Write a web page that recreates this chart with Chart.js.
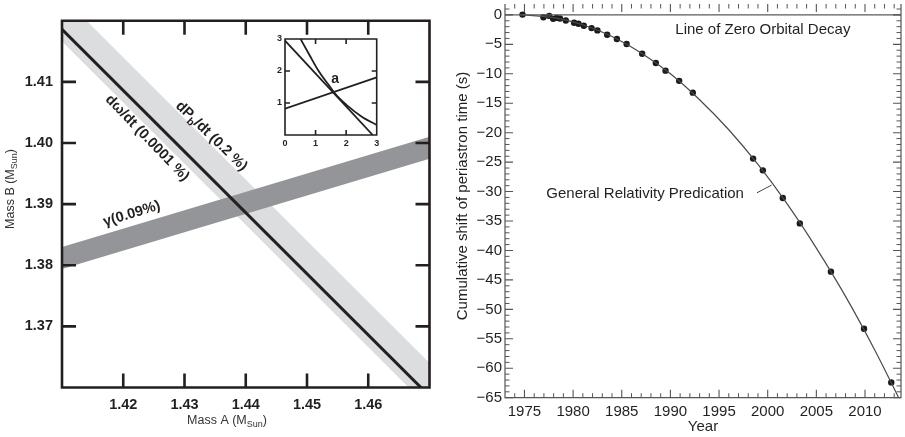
<!DOCTYPE html>
<html>
<head>
<meta charset="utf-8">
<script src="https://cdn.jsdelivr.net/npm/chart.js@4.4.1/dist/chart.umd.min.js"></script>
<style>
  body { margin: 0; background: #fff; }
  #wrap { position: relative; width: 905px; height: 437px; overflow: hidden; }
  canvas { position: absolute; }
</style>
</head>
<body>
<div id="wrap">
  <canvas id="massChart" width="455" height="437" style="left:0;top:0"></canvas>
  <canvas id="insetChart" width="125" height="125" style="left:268px;top:25px"></canvas>
  <canvas id="decayChart" width="450" height="437" style="left:455px;top:0"></canvas>
</div>
<script>
// =========================================================
// Left panel: mass-mass diagram
const massAEnds = [1.41, 1.47];
const pbdotLower = [1.4166, 1.3566];
const pbdotUpper = [1.4240, 1.3640];
const gammaLower = [1.3794, 1.3974];
const gammaUpper = [1.3830, 1.4010];
const omdotLine = [1.4186, 1.3586];
const massATicks = [1.42, 1.43, 1.44, 1.45, 1.46];
const massBTicks = [1.37, 1.38, 1.39, 1.40, 1.41];

// Inset
const insetXTicks = [0, 1, 2, 3];
const insetYTicks = [1, 2, 3];
const insetFallX = [0, 2.87];
const insetFallY = [2.95, 0];
const insetCurveX = [0.51, 0.8, 1.1, 1.4, 1.7, 2.0, 2.5, 3.0];
const insetCurveY = [3.0, 2.5, 2.0, 1.6, 1.22, 0.95, 0.58, 0.31];
const insetRiseX = [0, 3];
const insetRiseY = [0.82, 1.8];

// =========================================================
// Right panel: cumulative periastron shift
const obsYears = [1974.8, 1976.95, 1977.55, 1977.95, 1978.3, 1978.65, 1979.25, 1980.1, 1980.55, 1981.1,
  1981.9, 1982.5, 1983.5, 1984.5, 1985.5, 1987.1, 1988.5, 1989.5, 1990.9, 1992.3,
  1998.5, 1999.5, 2001.55, 2003.3, 2006.5, 2009.9, 2012.7];
const obsShift = [0.05, -0.4, -0.17, -0.67, -0.5, -0.6, -0.95, -1.34, -1.51, -1.85,
  -2.24, -2.63, -3.36, -4.09, -4.93, -6.61, -8.17, -9.47, -11.2, -13.2,
  -24.4, -26.4, -31.1, -35.4, -43.6, -53.3, -62.4];
const grYears = [1974.8, 1978, 1981, 1984, 1987, 1990, 1993, 1996, 1999, 2002, 2005, 2008, 2011, 2013.7];
const grShift = [0, -0.45, -1.67, -3.67, -6.46, -10.0, -14.4, -19.5, -25.4, -32.1, -39.6, -47.8, -56.9, -65.8];
const zeroYears = [1973, 2013.7];
const zeroShift = [0, 0];
const yearTicks = [1975, 1980, 1985, 1990, 1995, 2000, 2005, 2010];
const shiftTicks = [-65, -60, -55, -50, -45, -40, -35, -30, -25, -20, -15, -10, -5, 0];

// =======================
// Shared helpers
// =======================
const FONT = "'Liberation Sans', Arial, Helvetica, sans-serif";
const INK = '#231f20';

const pts = (xs, ys) => xs.map((x, i) => ({ x, y: ys[i] }));

// draw text made of normal and subscript parts, centred on (x, y)
function drawParts(ctx, parts, x, y, angle, size, weight, color) {
  ctx.save();
  ctx.translate(x, y);
  ctx.rotate(angle);
  ctx.fillStyle = color;
  ctx.textBaseline = 'middle';
  ctx.textAlign = 'left';
  const subSize = size * 0.72;
  let total = 0;
  parts.forEach(p => {
    ctx.font = `${weight} ${p.sub ? subSize : size}px ${FONT}`;
    p.w = ctx.measureText(p.t).width;
    total += p.w;
  });
  let cx = -total / 2;
  parts.forEach(p => {
    ctx.font = `${weight} ${p.sub ? subSize : size}px ${FONT}`;
    ctx.fillText(p.t, cx, p.sub ? size * 0.32 : 0);
    cx += p.w;
  });
  ctx.restore();
}

// inward tick marks on all sides + frame
function frameTicks(cfg) {
  return {
    id: 'frameTicks',
    afterDatasetsDraw(chart) {
      const { ctx, chartArea: a, scales: { x, y } } = chart;
      ctx.save();
      ctx.strokeStyle = cfg.color;
      cfg.marks.forEach(m => {
        ctx.lineWidth = m.width;
        ctx.beginPath();
        m.xs.forEach(v => {
          const px = x.getPixelForValue(v);
          ctx.moveTo(px, a.bottom); ctx.lineTo(px, a.bottom - m.len);
          ctx.moveTo(px, a.top); ctx.lineTo(px, a.top + m.len);
        });
        m.ys.forEach(v => {
          const py = y.getPixelForValue(v);
          ctx.moveTo(a.left, py); ctx.lineTo(a.left + m.len, py);
          ctx.moveTo(a.right, py); ctx.lineTo(a.right - m.len, py);
        });
        ctx.stroke();
      });
      ctx.lineWidth = cfg.frame;
      ctx.beginPath();
      if (cfg.top) { ctx.moveTo(a.left, a.top); ctx.lineTo(a.right, a.top); }
      ctx.moveTo(a.right, a.top); ctx.lineTo(a.right, a.bottom);
      ctx.lineTo(a.left, a.bottom); ctx.lineTo(a.left, a.top);
      if (cfg.top) ctx.closePath();
      ctx.stroke();
      ctx.restore();
    }
  };
}

// pin the axis boxes so the plot area sits where the reference has it
const fixY = w => s => { s.width = w; s.paddingTop = 0; s.paddingBottom = 0; };
const fixX = h => s => { s.height = h; };
const noGrid = { display: false, drawTicks: false };

// =======================
// Left chart
// =======================
const massLabels = {
  id: 'massLabels',
  afterDraw(chart) {
    const { ctx, scales: { x, y } } = chart;
    drawParts(ctx, [{ t: 'dω/dt (0.0001 %)' }], x.getPixelForValue(1.4239), y.getPixelForValue(1.4008),
      46 * Math.PI / 180, 14.5, 'bold', INK);
    drawParts(ctx, [{ t: 'dP' }, { t: 'b', sub: true }, { t: '/dt (0.2 %)' }],
      x.getPixelForValue(1.4344), y.getPixelForValue(1.4011), 44 * Math.PI / 180, 14.5, 'bold', INK);
    drawParts(ctx, [{ t: 'γ(0.09%)' }], x.getPixelForValue(1.4214), y.getPixelForValue(1.3884),
      -17 * Math.PI / 180, 14.5, 'bold', INK);
    drawParts(ctx, [{ t: 'Mass A (M' }, { t: 'Sun', sub: true }, { t: ')' }], 227, 421, 0, 12.5, 'normal', '#333');
    drawParts(ctx, [{ t: 'Mass B (M' }, { t: 'Sun', sub: true }, { t: ')' }], 11, 189, -Math.PI / 2, 12.5, 'normal', '#333');
  }
};

new Chart(document.getElementById('massChart'), {
  type: 'line',
  data: {
    datasets: [
      { data: pts(massAEnds, pbdotLower), borderWidth: 0, pointRadius: 0, order: 5 },
      { data: pts(massAEnds, pbdotUpper), borderWidth: 0, pointRadius: 0, order: 4,
        fill: 0, backgroundColor: '#dcdddf' },
      { data: pts(massAEnds, gammaLower), borderWidth: 0, pointRadius: 0, order: 3 },
      { data: pts(massAEnds, gammaUpper), borderWidth: 0, pointRadius: 0, order: 2,
        fill: 2, backgroundColor: '#939598' },
      { data: pts(massAEnds, omdotLine), borderColor: INK, borderWidth: 3, pointRadius: 0, order: 1 }
    ]
  },
  options: {
    responsive: false,
    animation: false,
    devicePixelRatio: 1,
    layout: { padding: { top: 20.7, right: 25.5, left: 0, bottom: 0 } },
    plugins: { legend: { display: false }, tooltip: { enabled: false } },
    scales: {
      x: {
        type: 'linear', min: 1.41, max: 1.47,
        grid: noGrid, border: { display: false },
        afterBuildTicks: s => { s.ticks = massATicks.map(v => ({ value: v })); },
        afterFit: fixX(49.5),
        ticks: { color: INK, padding: 9, maxRotation: 0, font: { family: FONT, size: 14.5, weight: 'bold' },
          callback: v => v.toFixed(2) }
      },
      y: {
        type: 'linear', min: 1.36, max: 1.42,
        grid: noGrid, border: { display: false },
        afterBuildTicks: s => { s.ticks = massBTicks.map(v => ({ value: v })); },
        afterFit: fixY(62),
        ticks: { color: INK, padding: 9, font: { family: FONT, size: 14.5, weight: 'bold' },
          callback: v => v.toFixed(2) }
      }
    }
  },
  plugins: [frameTicks({ color: INK, frame: 2.6, top: true,
    marks: [{ xs: massATicks, ys: massBTicks, len: 14, width: 2.6 }] }), massLabels]
});

// =======================
// Inset chart
// =======================
const insetLabel = {
  id: 'insetLabel',
  afterDraw(chart) {
    const { ctx, scales: { x, y } } = chart;
    drawParts(ctx, [{ t: 'a' }], x.getPixelForValue(1.64), y.getPixelForValue(1.74), 0, 14, 'bold', INK);
  }
};

new Chart(document.getElementById('insetChart'), {
  type: 'line',
  data: {
    datasets: [
      { data: pts(insetFallX, insetFallY), borderColor: INK, borderWidth: 1.8, pointRadius: 0 },
      { data: pts(insetCurveX, insetCurveY), borderColor: INK, borderWidth: 1.8, pointRadius: 0,
        cubicInterpolationMode: 'monotone' },
      { data: pts(insetRiseX, insetRiseY), borderColor: INK, borderWidth: 1.8, pointRadius: 0 }
    ]
  },
  options: {
    responsive: false,
    animation: false,
    devicePixelRatio: 1,
    layout: { padding: { top: 14, right: 16.3, left: 0, bottom: 0 } },
    plugins: { legend: { display: false }, tooltip: { enabled: false } },
    scales: {
      x: {
        type: 'linear', min: 0, max: 3,
        grid: noGrid, border: { display: false },
        afterBuildTicks: s => { s.ticks = insetXTicks.map(v => ({ value: v })); },
        afterFit: fixX(15),
        ticks: { color: INK, padding: 3, maxRotation: 0, font: { family: FONT, size: 9, weight: 'bold' } }
      },
      y: {
        type: 'linear', min: 0, max: 3,
        grid: noGrid, border: { display: false },
        afterBuildTicks: s => { s.ticks = insetYTicks.map(v => ({ value: v })); },
        afterFit: fixY(17),
        ticks: { color: INK, padding: 3, font: { family: FONT, size: 9, weight: 'bold' } }
      }
    }
  },
  plugins: [frameTicks({ color: INK, frame: 1.6, top: true,
    marks: [{ xs: [1, 2], ys: [1, 2], len: 5, width: 1.6 }] }), insetLabel]
});

// =======================
// Right chart
// =======================
const minorYears = [];
for (let yr = 1974; yr <= 2013; yr++) if (yr % 5) minorYears.push(yr);
const minorShifts = [];
for (let s = -64; s <= 1; s++) if (s % 5) minorShifts.push(s);

const decayLabels = {
  id: 'decayLabels',
  afterDraw(chart) {
    const { ctx, scales: { x, y } } = chart;
    drawParts(ctx, [{ t: 'Line of Zero Orbital Decay' }], x.getPixelForValue(1999.5), y.getPixelForValue(-2.5),
      0, 15, 'normal', INK);
    drawParts(ctx, [{ t: 'General Relativity Predication' }], x.getPixelForValue(1987.4), y.getPixelForValue(-30.4),
      0, 15, 'normal', INK);
    ctx.save();
    ctx.strokeStyle = '#444';
    ctx.lineWidth = 1;
    ctx.beginPath();
    ctx.moveTo(x.getPixelForValue(1998.9), y.getPixelForValue(-30.2));
    ctx.lineTo(x.getPixelForValue(2000.4), y.getPixelForValue(-28.9));
    ctx.stroke();
    ctx.restore();
    drawParts(ctx, [{ t: 'Year' }], 248, 427, 0, 15, 'normal', INK);
    drawParts(ctx, [{ t: 'Cumulative shift of periastron time (s)' }], 7.5, 196, -Math.PI / 2, 15, 'normal', INK);
  }
};

new Chart(document.getElementById('decayChart'), {
  type: 'line',
  data: {
    datasets: [
      { data: pts(zeroYears, zeroShift), borderColor: '#5a5a5a', borderWidth: 1.4, pointRadius: 0 },
      { data: pts(grYears, grShift), borderColor: '#4a4a4a', borderWidth: 1.2, pointRadius: 0,
        cubicInterpolationMode: 'monotone' },
      { data: pts(obsYears, obsShift), showLine: false, pointRadius: 3.2, borderWidth: 0,
        backgroundColor: '#1a1a1a' }
    ]
  },
  options: {
    responsive: false,
    animation: false,
    devicePixelRatio: 1,
    layout: { padding: { top: 0, right: 3, left: 0, bottom: 0 } },
    plugins: { legend: { display: false }, tooltip: { enabled: false } },
    scales: {
      x: {
        type: 'linear', min: 1973, max: 2013.7,
        grid: noGrid, border: { display: false },
        afterBuildTicks: s => { s.ticks = yearTicks.map(v => ({ value: v })); },
        afterFit: fixX(39.3),
        ticks: { color: INK, padding: 5, maxRotation: 0, font: { family: FONT, size: 15 },
          callback: v => String(v) }
      },
      y: {
        type: 'linear', min: -65, max: 1.85,
        grid: noGrid, border: { display: false },
        afterBuildTicks: s => { s.ticks = shiftTicks.map(v => ({ value: v })); },
        afterFit: fixY(50),
        ticks: { color: INK, padding: 3, font: { family: FONT, size: 15 },
          callback: v => (v < 0 ? '\u2212' + Math.abs(v) : String(v)) }
      }
    }
  },
  plugins: [frameTicks({ color: '#555', frame: 1.2, top: false,
    marks: [
      { xs: yearTicks, ys: shiftTicks, len: 8, width: 1.1 },
      { xs: minorYears, ys: minorShifts, len: 4.5, width: 1 }
    ] }), decayLabels]
});
</script>
</body>
</html>
